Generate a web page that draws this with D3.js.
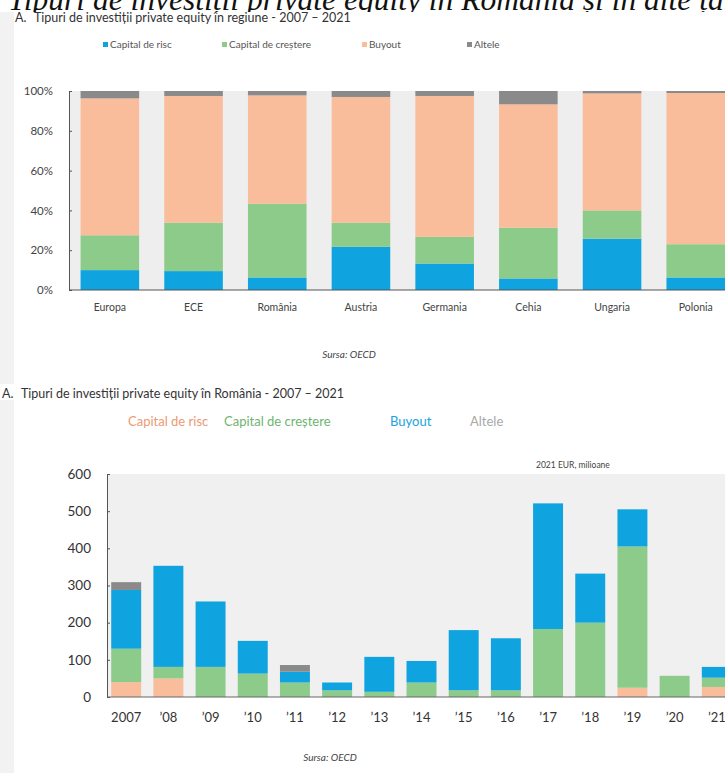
<html>
  <head>
    <meta charset="utf-8">
    <script src="https://d3js.org/d3.v7.min.js"></script>
    <style>
      body { margin: 0; background: #fff; }
      text { font-family: Lato, "Open Sans", sans-serif; }
    </style>
  </head>
  <body>
    <svg id="chart" width="725" height="773"></svg>
    <script>
      // top chart: shares by region (%)
      var regions = ["Europa", "ECE", "România", "Austria", "Germania", "Cehia", "Ungaria", "Polonia"];
      var regRisc = [10, 9.5, 6.3, 21.7, 13.3, 5.8, 25.8, 6.3];
      var regCrestere = [17.5, 24.3, 37, 12.1, 13.4, 25.5, 14.2, 16.7];
      var regBuyout = [68.8, 63.7, 54.5, 63.2, 70.8, 62, 58.8, 76];
      var regAltele = [3.7, 2.5, 2.2, 3, 2.5, 6.7, 1.2, 1];
      var pctTicks = [0, 20, 40, 60, 80, 100];

      // bottom chart: Romania, 2021 EUR millions
      var years = ["2007", "’08", "’09", "’10", "’11", "’12", "’13", "’14", "’15", "’16", "’17", "’18", "’19", "’20", "’21"];
      var roRisc = [40, 50, 0, 0, 0, 0, 0, 0, 0, 0, 0, 0, 25, 0, 27];
      var roCrestere = [90, 31, 81, 63, 39, 18, 14, 39, 18, 18, 183, 200, 380, 57, 25];
      var roBuyout = [158, 272, 176, 88, 29, 21, 94, 58, 162, 140, 338, 132, 100, 0, 29];
      var roAltele = [21, 0, 0, 0, 18, 0, 0, 0, 0, 0, 0, 0, 0, 0, 0];
      var eurTicks = [0, 100, 200, 300, 400, 500, 600];

      var keys = ["risc", "crestere", "buyout", "altele"];
      var names = ["Capital de risc", "Capital de creștere", "Buyout", "Altele"];
      var blue = "#0fa4e0", green = "#8ccb8a", peach = "#f9bd9b", grey = "#8a8a8a";
      var topColors = [blue, green, peach, grey];
      var botColors = [peach, green, blue, grey];

      var svg = d3.select("#chart");

      // clipped document heading, only its lower part shows
      svg.append("clipPath").attr("id", "headclip")
        .append("rect").attr("x", 0).attr("y", -40).attr("width", 725).attr("height", 52);
      svg.append("text")
        .attr("clip-path", "url(#headclip)")
        .attr("x", 8).attr("y", 10)
        .style("font-family", "'Liberation Serif', 'DejaVu Serif', serif")
        .style("font-style", "italic")
        .style("font-size", "31.5px")
        .attr("fill", "#111")
        .text("Tipuri de investiții private equity în România și în alte țări");

      // page strip on the left
      svg.append("rect").attr("x", 0).attr("y", 12).attr("width", 14).attr("height", 761).attr("fill", "#f2f2f2");

      function rows(cats, a, b, c, d) {
        return cats.map(function(k, i) {
          return { cat: k, risc: a[i], crestere: b[i], buyout: c[i], altele: d[i] };
        });
      }

      function subtitle(x, y, s) {
        svg.append("text").attr("x", x).attr("y", y).attr("font-size", 12.5).attr("fill", "#333").text("A.");
        svg.append("text").attr("x", x + 19).attr("y", y).attr("font-size", 12.5).attr("fill", "#333").text(s);
      }

      // ---------- top chart ----------
      subtitle(15, 22, "Tipuri de investiții private equity în regiune - 2007 – 2021");

      var legX1 = [103, 222, 362, 467];
      names.forEach(function(n, i) {
        svg.append("rect").attr("x", legX1[i]).attr("y", 42).attr("width", 5).attr("height", 5).attr("fill", topColors[i]);
        svg.append("text").attr("x", legX1[i] + 7).attr("y", 48).attr("font-size", 10).attr("fill", "#555").text(n);
      });

      var x1 = d3.scaleBand().domain(regions).range([68, 737.6]).paddingInner(0.3).paddingOuter(0.15);
      var y1 = d3.scaleLinear().domain([0, 100]).range([290, 91]);

      svg.append("rect").attr("x", 69).attr("y", 91).attr("width", 656).attr("height", 199).attr("fill", "#eeeeee");

      var stack1 = d3.stack().keys(keys)(rows(regions, regRisc, regCrestere, regBuyout, regAltele));
      svg.append("g").selectAll("g").data(stack1).join("g")
        .attr("fill", function(d, i) { return topColors[i]; })
        .selectAll("rect").data(function(d) { return d; }).join("rect")
        .attr("x", function(d) { return x1(d.data.cat); })
        .attr("width", x1.bandwidth())
        .attr("y", function(d) { return y1(d[1]); })
        .attr("height", function(d) { return y1(d[0]) - y1(d[1]); });

      var ax1 = svg.append("g").attr("transform", "translate(69,0)")
        .call(d3.axisLeft(y1).tickValues(pctTicks).tickSizeInner(-3).tickSizeOuter(0).tickPadding(16)
          .tickFormat(function(d) { return d + "%"; }));
      ax1.select(".domain").attr("stroke", "#555");
      ax1.selectAll(".tick line").attr("stroke", "#555");
      ax1.selectAll("text").attr("font-size", 11.5).attr("fill", "#444").style("font-family", "Lato, sans-serif");

      svg.append("line").attr("x1", 69).attr("x2", 725).attr("y1", 290).attr("y2", 290).attr("stroke", "#555");

      var bx1 = svg.append("g").attr("transform", "translate(0,290)")
        .call(d3.axisBottom(x1).tickSize(0).tickPadding(14));
      bx1.select(".domain").remove();
      bx1.selectAll("text").attr("font-size", 10.5).attr("fill", "#444").style("font-family", "Lato, sans-serif");

      svg.append("text").attr("x", 349).attr("y", 358).attr("text-anchor", "middle")
        .attr("font-size", 10).attr("font-style", "italic").attr("fill", "#444").text("Sursa: OECD");

      // ---------- bottom chart ----------
      svg.append("rect").attr("x", 0).attr("y", 384).attr("width", 14).attr("height", 16).attr("fill", "#fff");
      subtitle(2, 398, "Tipuri de investiții private equity în România - 2007 – 2021");

      var legX2 = [128, 224, 390, 470];
      var legCol2 = ["#eb9a72", "#6fb46f", "#1aa3dd", "#a8a8a8"];
      names.forEach(function(n, i) {
        svg.append("text").attr("x", legX2[i]).attr("y", 426).attr("font-size", 13).attr("fill", legCol2[i]).text(n);
      });

      svg.append("text").attr("x", 536).attr("y", 468).attr("font-size", 8.5).attr("fill", "#444").text("2021 EUR, milioane");

      var x2 = d3.scaleBand().domain(years).range([107, 736]).paddingInner(0.29).paddingOuter(0.1);
      var y2 = d3.scaleLinear().domain([0, 600]).range([697, 474]);

      svg.append("rect").attr("x", 107).attr("y", 474).attr("width", 618).attr("height", 223).attr("fill", "#f0f0f0");

      var stack2 = d3.stack().keys(keys)(rows(years, roRisc, roCrestere, roBuyout, roAltele));
      svg.append("g").selectAll("g").data(stack2).join("g")
        .attr("fill", function(d, i) { return botColors[i]; })
        .selectAll("rect").data(function(d) { return d; }).join("rect")
        .attr("x", function(d) { return x2(d.data.cat); })
        .attr("width", x2.bandwidth())
        .attr("y", function(d) { return y2(d[1]); })
        .attr("height", function(d) { return y2(d[0]) - y2(d[1]); });

      var ax2 = svg.append("g").attr("transform", "translate(107,0)")
        .call(d3.axisLeft(y2).tickValues(eurTicks).tickSizeInner(-3).tickSizeOuter(0).tickPadding(16));
      ax2.select(".domain").attr("stroke", "#555");
      ax2.selectAll(".tick line").attr("stroke", "#555");
      ax2.selectAll("text").attr("font-size", 13.5).attr("fill", "#333").style("font-family", "Lato, sans-serif");

      svg.append("line").attr("x1", 107).attr("x2", 725).attr("y1", 697).attr("y2", 697).attr("stroke", "#666");

      var bx2 = svg.append("g").attr("transform", "translate(0,697)")
        .call(d3.axisBottom(x2).tickSize(0).tickPadding(16));
      bx2.select(".domain").remove();
      bx2.selectAll("text").attr("font-size", 13).attr("fill", "#333").style("font-family", "Lato, sans-serif");

      svg.append("text").attr("x", 330).attr("y", 761).attr("text-anchor", "middle")
        .attr("font-size", 10).attr("font-style", "italic").attr("fill", "#444").text("Sursa: OECD");
    </script>
  </body>
</html>
